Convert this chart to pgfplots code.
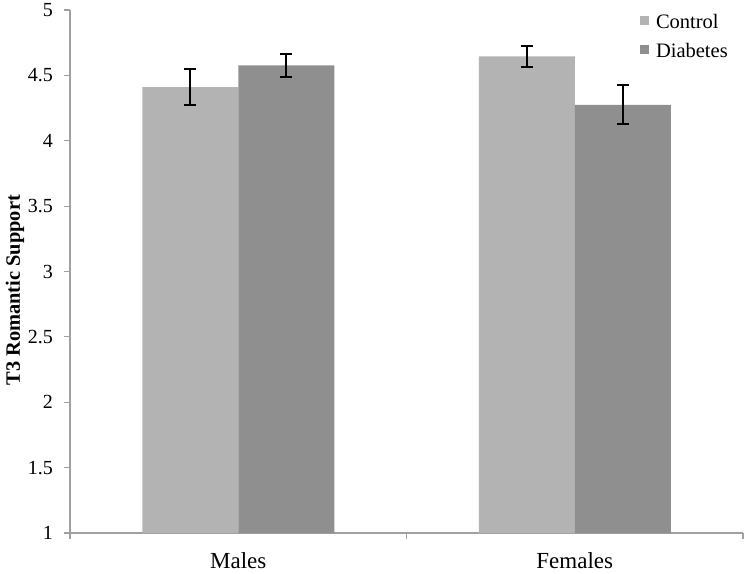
\documentclass[border=0pt]{standalone}
\usepackage{pgfplots}
\pgfplotsset{compat=1.18}
\usepackage{fontspec}
\setmainfont{Liberation Serif}
\definecolor{ctrl}{HTML}{B3B3B3}
\definecolor{diab}{HTML}{8F8F8F}
\definecolor{axgray}{HTML}{A0A0A0}
\begin{document}
\begin{tikzpicture}
\begin{axis}[
  scale only axis,
  width=336.5pt, height=261.5pt,
  ymin=1, ymax=5,
  ytick={1,1.5,2,2.5,3,3.5,4,4.5,5},
  xmin=-0.5, xmax=1.5,
  xtick={0,1},
  xticklabels={Males,Females},
  minor xtick={-0.5,0.5,1.5},
  major x tick style={draw=none},
  minor x tick style={axgray, line width=0.6pt},
  minor tick length=3pt,
  y tick style={axgray, line width=0.6pt},
  major tick length=3pt,
  tick align=outside,
  axis x line*=bottom,
  axis y line*=left,
  axis line style={axgray, line width=0.8pt, -},
  /pgf/number format/assume math mode=true,
  yticklabel style={font=\fontsize{10}{12}\selectfont, xshift=-2pt},
  xticklabel style={font=\fontsize{11.5}{13}\selectfont, yshift=-3pt},
  ylabel={\textbf{T3 Romantic Support}},
  ylabel style={font=\fontsize{10.2}{12}\selectfont, at={(axis description cs:-0.0817,0.464)}, anchor=center},
  ybar=0pt,
  bar width=48pt,
  legend style={at={(axis description cs:0.847,1.0)}, anchor=north west, draw=none, fill=none,
    font=\fontsize{10.25}{12}\selectfont, row sep=2pt, inner sep=0pt, outer sep=0pt},
  legend cell align=left,
  legend image code/.code={\fill[#1] (0pt,-1.2pt) rectangle (4.5pt,3.3pt);},
  error bars/y dir=both,
  error bars/y explicit,
  error bars/error bar style={black, line width=1pt},
  error bars/error mark options={rotate=90, mark size=3pt, line width=1pt, black},
]
\addplot[fill=ctrl, draw=none] coordinates {(0,4.41) +- (0,0.14) (1,4.645) +- (0,0.08)};
\addplot[fill=diab, draw=none] coordinates {(0,4.576) +- (0,0.09) (1,4.275) +- (0,0.15)};
\legend{\hspace{1.5pt}Control,\hspace{1.5pt}Diabetes}
\coordinate (SW) at (rel axis cs:0,0);
\coordinate (NE) at (rel axis cs:1,1);
\end{axis}
\pgfresetboundingbox
\path[use as bounding box] ([xshift=-35pt,yshift=-20pt]SW) rectangle ([xshift=0.5pt,yshift=5pt]NE);
\end{tikzpicture}
\end{document}
